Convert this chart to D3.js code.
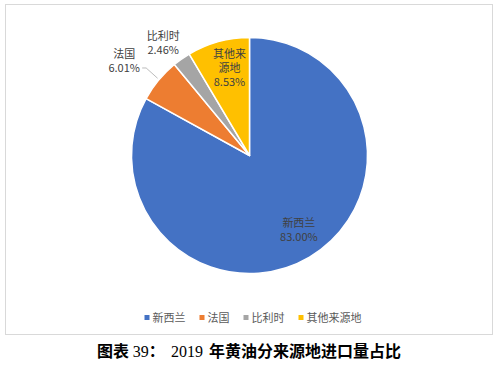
<!DOCTYPE html>
<html><head><meta charset="utf-8">
<script src="https://cdn.jsdelivr.net/npm/d3@7"></script>
<style>body{margin:0;background:#fff}svg{display:block}</style>
</head><body>
<svg id="c" width="500" height="372"></svg>
<script>
const categories = ["新西兰", "法国", "比利时", "其他来源地"];
const values = [83.00, 6.01, 2.46, 8.53];
const valueLabels = ["83.00%", "6.01%", "2.46%", "8.53%"];
const labelLines = [["新西兰"], ["法国"], ["比利时"], ["其他来", "源地"]];
const colors = ["#4472C4", "#ED7D31", "#A5A5A5", "#FFC000"];
const titleParts = [
  { t: "图表 ", cjk: true },
  { t: "39", cjk: false },
  { t: "：", cjk: true },
  { t: "2019", cjk: false, x: 171 },
  { t: "年黄油分来源地进口量占比", cjk: true, x: 209 }
];

const svg = d3.select("#c");
const font = "'Noto Sans CJK SC','Noto Sans',sans-serif";

// frame
svg.append("rect").attr("x", 5.5).attr("y", 4.5).attr("width", 487).attr("height", 330)
  .attr("fill", "#fff").attr("stroke", "#d9d9d9").attr("stroke-width", 1);

const cx = 249.5, cy = 155.5, R = 118;
const data = categories.map((c, i) => ({ cat: c, value: values[i], i }));
const pie = d3.pie().sort(null).value(d => d.value).startAngle(0).endAngle(2 * Math.PI);
const arcs = pie(data);
const arc = d3.arc().innerRadius(0).outerRadius(R);
const g = svg.append("g").attr("transform", `translate(${cx},${cy})`);

g.selectAll("path.s").data(arcs).enter().append("path").attr("class", "s")
  .attr("d", arc).attr("fill", d => colors[d.data.i])
  .attr("stroke", "#fff").attr("stroke-width", 1.5).attr("stroke-linejoin", "round");

// label placement (radius and angular shift in degrees)
const labelR = [89, 157, 142, 90];
const labelShift = [-3.1, -2.6, -2.3, 2.5];
const lineH = 14;
function pos(d, r, shiftDeg) {
  const a = (d.startAngle + d.endAngle) / 2 + (shiftDeg || 0) * Math.PI / 180;
  return [r * Math.sin(a), -r * Math.cos(a)];
}
arcs.forEach(d => {
  const i = d.data.i;
  const [x, y] = pos(d, labelR[i], labelShift[i]);
  const lines = labelLines[i].concat([valueLabels[i]]);
  const t = g.append("text").attr("font-family", font).attr("font-size", 11)
    .attr("fill", "#404040").attr("text-anchor", "middle");
  const y0 = y - (lines.length - 1) * lineH / 2 + 4;
  lines.forEach((ln, k) => {
    t.append("tspan").attr("x", x).attr("y", y0 + k * lineH).text(ln);
  });
});

// leader line for 法国
{
  const d = arcs[1];
  const [ax, ay] = pos(d, R, 0);
  const [lx, ly] = pos(d, labelR[1], labelShift[1]);
  g.append("polyline")
    .attr("points", [[ax - 1, ay - 2], [lx + 22, ly + 7], [lx + 18, ly + 7]].map(p => p.join(",")).join(" "))
    .attr("fill", "none").attr("stroke", "#a6a6a6").attr("stroke-width", 0.75);
}

// legend
const lg = svg.append("g");
let xoff = 0;
categories.forEach((c, i) => {
  const it = lg.append("g").attr("transform", `translate(${xoff},0)`);
  it.append("rect").attr("x", 0).attr("y", -3).attr("width", 5).attr("height", 5).attr("fill", colors[i]);
  const t = it.append("text").attr("x", 8).attr("y", 4).attr("font-family", font)
    .attr("font-size", 11).attr("fill", "#595959").text(c);
  xoff += 8 + t.node().getComputedTextLength() + 14;
});
const lw = xoff - 14;
lg.attr("transform", `translate(${253 - lw / 2},318)`);

// title
const tt = svg.append("text").attr("x", 97).attr("y", 357).attr("font-size", 16)
  .attr("fill", "#000").style("white-space", "pre");
titleParts.forEach(p => {
  const s = tt.append("tspan").text(p.t);
  if (p.cjk) s.attr("font-family", "'Noto Sans CJK SC',sans-serif").attr("font-weight", "bold");
  else s.attr("font-family", "'Liberation Serif',serif").attr("font-weight", "normal");
  if (p.x) s.attr("x", p.x);
});
</script>
</body></html>
